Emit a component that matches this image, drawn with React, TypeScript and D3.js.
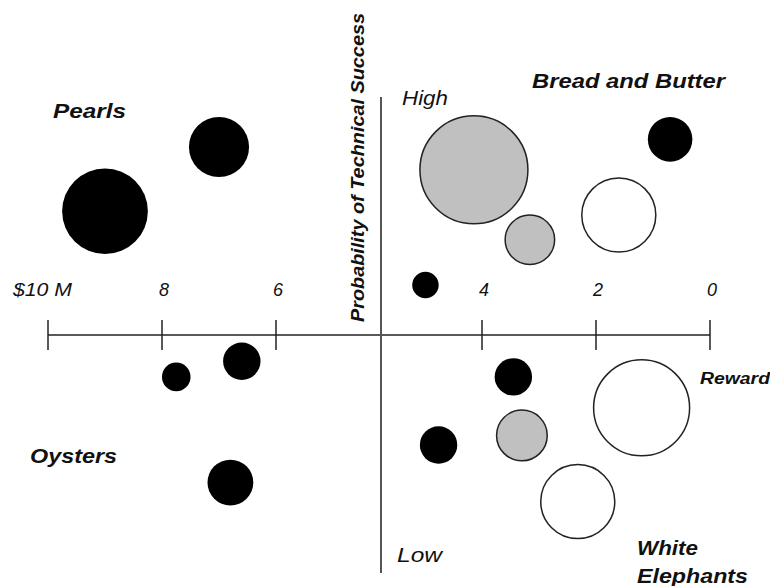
import * as d3 from 'd3'

// reward in $M, probability of technical success (0..1), size (relative cost)
const rewards = [9.0, 7.0, 4.08, 3.16, 1.6, 0.7, 4.56, 7.75, 6.6, 6.8, 3.45, 3.3, 4.43, 1.2, 2.32]
const probabilities = [0.76, 0.895, 0.847, 0.7, 0.752, 0.911, 0.605, 0.412, 0.445, 0.19, 0.412, 0.289, 0.269, 0.347, 0.15]
const sizes = [63, 31, 100, 21, 47, 17, 6, 7, 12, 18, 12, 22, 12, 79, 47]
const kinds = ['black', 'black', 'gray', 'gray', 'white', 'black', 'black', 'black', 'black', 'black', 'black', 'gray', 'black', 'white', 'white']

const tickValues = [10, 8, 6, 4, 2, 0]
const tickLabels = ['$10 M', '8', '6', '4', '2', '0']

const W = 770
const H = 586
const FONT = '"Liberation Sans", Arial, Helvetica, sans-serif'
const INK = '#111'

const fills: Record<string, string> = { black: '#000', gray: '#c0c0c0', white: '#fff' }

export default function App() {
    // broken reward axis: the centre gap (6 -> 4) is stretched around the probability axis
    const x = d3.scaleLinear().domain([10, 6, 5, 4, 0]).range([48, 276, 381, 482, 710])
    const y = d3.scaleLinear().domain([0, 1]).range([573, 97])
    const r = d3.scaleSqrt().domain([0, 100]).range([0, 54])

    const axisY = y(0.5)
    const axisX = x(5)

    const bubbles = rewards.map((v, i) => ({ v, p: probabilities[i], s: sizes[i], k: kinds[i] }))

    return (
        <svg width={W} height={H} style={{ position: 'absolute', left: 0, top: 0, background: '#fff' }}
            fontFamily={FONT}>
            <rect width={W} height={H} fill="#fff" />

            {/* reward axis */}
            <line x1={x(10)} x2={x(0)} y1={axisY} y2={axisY} stroke="#222" strokeWidth={1.5} />
            {tickValues.map((t, i) => (
                <g key={t}>
                    <line x1={x(t)} x2={x(t)} y1={axisY - 15} y2={axisY + 15} stroke="#222" strokeWidth={1.5} />
                    {i === 0
                        ? <text x={x(t) - 35} y={296} fontSize={18} fontStyle="italic" fill={INK}
                            textLength={59} lengthAdjust="spacingAndGlyphs">{tickLabels[i]}</text>
                        : <text x={x(t) + 2} y={296} fontSize={18} fontStyle="italic" fill={INK}
                            textAnchor="middle">{tickLabels[i]}</text>}
                </g>
            ))}

            {/* probability axis */}
            <line x1={axisX} x2={axisX} y1={y(1)} y2={y(0)} stroke="#555" strokeWidth={2} />
            <text transform="translate(364,322) rotate(-90)" fontSize={19} fontWeight="bold" fontStyle="italic"
                fill={INK} textLength={309} lengthAdjust="spacingAndGlyphs">Probability of Technical Success</text>
            <text x={402} y={105} fontSize={20} fontStyle="italic" fill={INK}
                textLength={46} lengthAdjust="spacingAndGlyphs">High</text>
            <text x={397} y={562} fontSize={20} fontStyle="italic" fill={INK}
                textLength={45} lengthAdjust="spacingAndGlyphs">Low</text>

            {/* bubbles */}
            {bubbles.map((b, i) => (
                <circle key={i} cx={x(b.v)} cy={y(b.p)} r={r(b.s)} fill={fills[b.k]}
                    stroke={b.k === 'black' ? 'none' : '#222'} strokeWidth={1.5} />
            ))}

            {/* quadrant labels */}
            <g fontWeight="bold" fontStyle="italic" fill={INK} fontSize={20}>
                <text x={53} y={118} textLength={73} lengthAdjust="spacingAndGlyphs">Pearls</text>
                <text x={532} y={88} textLength={193} lengthAdjust="spacingAndGlyphs">Bread and Butter</text>
                <text x={30} y={463} textLength={87} lengthAdjust="spacingAndGlyphs">Oysters</text>
                <text x={637} y={555} textLength={61} lengthAdjust="spacingAndGlyphs">White</text>
                <text x={637} y={583} textLength={111} lengthAdjust="spacingAndGlyphs">Elephants</text>
                <text x={700} y={384} fontSize={16} textLength={70} lengthAdjust="spacingAndGlyphs">Reward</text>
            </g>
        </svg>
    )
}
